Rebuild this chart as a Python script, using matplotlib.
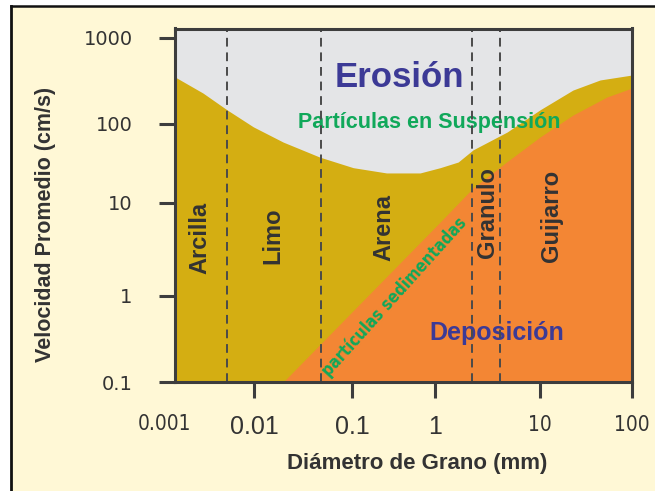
import numpy as np
import matplotlib
matplotlib.use("Agg")
import matplotlib.pyplot as plt
from matplotlib import font_manager
from matplotlib.font_manager import FontProperties
from matplotlib.patches import Rectangle
from matplotlib.lines import Line2D

# ---- data -------------------------------------------------------------
# Erosion threshold (upper curve): grain diameter (mm) vs mean velocity (cm/s)
erosion_d = [0.00132, 0.0027, 0.005, 0.0098, 0.0198, 0.047, 0.103, 0.26,
             0.66, 1.12, 1.66, 2.3, 4.85, 10, 22.8, 45, 100]
erosion_v = [352, 229, 146, 92, 59, 38, 28, 24, 24, 28, 33, 47, 79, 146, 248,
             325, 371]

# Settling threshold (lower curve)
settle_d = [0.0198, 1.12, 2.3, 4.16, 10, 22.8, 53.5, 100]
settle_v = [0.1, 6.25, 15.5, 28.6, 68.4, 127, 206, 262]

# Grain-size class boundaries (mm)
class_bounds = [0.005, 0.048, 2.27, 4.19]
class_names = ["Arcilla", "Limo", "Arena", "Granulo", "Guijarro"]

x_ticks = [0.01, 0.1, 1, 10, 100]
x_tick_labels = ["0.01", "0.1", "1", "10", "100"]
y_ticks = [0.1, 1, 10, 100, 1000]
y_tick_labels = ["0.1", "1", "10", "100", "1000"]

# ---- colours / fonts ----------------------------------------------------
CREAM = "#FFF8D6"
GRAY = "#E4E5E7"
MUSTARD = "#D4AE12"
ORANGE = "#F38634"
BLUE = "#3C3A96"
GREEN = "#10A85A"
DARK = "#333333"
FRAME = "#3D3D3D"

plt.rcParams["font.family"] = ["Liberation Sans", "DejaVu Sans"]


def narrow_font(bold, size):
    """A condensed sans face if one is installed, else plain Liberation Sans."""
    best = None
    for f in font_manager.fontManager.ttflist:
        name = f.name.lower()
        tag = (name + " " + str(f.stretch) + " " + f.fname).lower()
        if "condensed" not in tag and "narrow" not in tag:
            continue
        if "sans" not in name or any(k in tag for k in ("mono", "serif", "cjk")):
            continue
        if "italic" in str(f.style).lower() or "oblique" in str(f.style).lower():
            continue
        w = f.weight if isinstance(f.weight, int) else (700 if "bold" in str(f.weight) else 400)
        if (w >= 600) != bold:
            continue
        if best is None or "liberation" in name:
            best = f
    if best is None:
        return FontProperties(family="Liberation Sans",
                              weight="bold" if bold else "normal", size=size)
    return FontProperties(fname=best.fname, size=size)


# ---- hand-drawn log axes: each decade has its own width ----------------
X_DEC = [-4, -3, -2, -1, 0, 1, 2, 3]
X_POS = [74, 164, 254, 352, 435, 540, 632, 724]
Y_DEC = [-2, -1, 0, 1, 2, 3, 4]
Y_POS = [-86, 0, 86, 179, 258, 344, 430]


def _fwd(dec, pos):
    def f(v):
        v = np.asarray(v, dtype=float)
        return np.interp(np.log10(np.clip(v, 1e-12, None)), dec, pos)
    return f


def _inv(dec, pos):
    def f(p):
        return 10.0 ** np.interp(np.asarray(p, dtype=float), pos, dec)
    return f


# ---- figure -------------------------------------------------------------
W, H = 655, 491
fig = plt.figure(figsize=(W / 100, H / 100), dpi=100, facecolor="white")
fig.patches.append(Rectangle((11 / W, 0), 1, (H - 6) / H, transform=fig.transFigure,
                             facecolor=CREAM, edgecolor="none", zorder=-10))
fig.add_artist(Line2D([11 / W, 11 / W], [0, (H - 6) / H], color="#111111", lw=2.0,
                      zorder=-5))
fig.add_artist(Line2D([11 / W, 1], [(H - 6) / H, (H - 6) / H], color="#111111", lw=1.8,
                      zorder=-5))

ax = fig.add_axes([175 / W, (H - 382) / H, 457 / W, 353.5 / H])
ax.set_zorder(2)
ax.set_xscale("function", functions=(_fwd(X_DEC, X_POS), _inv(X_DEC, X_POS)))
ax.set_yscale("function", functions=(_fwd(Y_DEC, Y_POS), _inv(Y_DEC, Y_POS)))
ax.set_xlim(0.00132, 100)
ax.set_ylim(0.1, 1289)
ax.set_facecolor(GRAY)

ax.fill_between(erosion_d, 0.05, erosion_v, color=MUSTARD, lw=0, zorder=1)
ax.fill_between(settle_d, 0.05, settle_v, color=ORANGE, lw=0, zorder=2)

# region labels
ax.text(0.492, 0.860, "Erosión", transform=ax.transAxes, ha="center", va="center",
        fontsize=25, fontweight="bold", color=BLUE, zorder=3)
ax.text(0.556, 0.7355, "Partículas en Suspensión", transform=ax.transAxes,
        ha="center", va="center", fontsize=15.5, fontweight="bold", color=GREEN, zorder=3)
ax.text(0.7046, 0.1386, "Deposición", transform=ax.transAxes, ha="center",
        va="center", fontsize=18, fontweight="bold", color=BLUE, zorder=3)
ax.text(0.480, 0.242, "partículas sedimentadas", transform=ax.transAxes,
        ha="center", va="center", rotation=48, rotation_mode="anchor",
        fontproperties=narrow_font(True, 12), color=GREEN, zorder=3)

name_pos = [(0.0547, 0.407), (0.2144, 0.413), (0.457, 0.436), (0.683, 0.478),
            (0.823, 0.470)]
for name, (fx, fy) in zip(class_names, name_pos):
    ax.text(fx, fy, name, transform=ax.transAxes, ha="center", va="center",
            rotation=90, fontsize=17, fontweight="bold", color=DARK, zorder=3)

for b in class_bounds:
    ax.axvline(b, color="#4A4A4A", lw=1.4, dashes=(4.5, 3), zorder=4)

# frame and ticks
for sp in ax.spines.values():
    sp.set_color(FRAME)
    sp.set_linewidth(2.2)
    sp.set_zorder(5)

ax.set_xticks(x_ticks, x_tick_labels)
ax.set_yticks(y_ticks, y_tick_labels)
ax.minorticks_off()
ax.tick_params(axis="both", direction="out", length=11.5, width=2.2, color=FRAME,
               labelcolor=DARK)
ax.tick_params(axis="x", pad=12)
ax.tick_params(axis="y", pad=19)

for lab in ax.get_yticklabels():
    lab.set_fontfamily("DejaVu Sans")
    lab.set_fontsize(14)
for lab in ax.get_xticklabels():
    if lab.get_text() in ("10", "100"):
        lab.set_fontproperties(narrow_font(False, 15))
    else:
        lab.set_fontsize(18)

ax.text(0.001, -0.118, "0.001", transform=ax.get_xaxis_transform(), ha="center",
        va="center", fontproperties=narrow_font(False, 15), color=DARK, clip_on=False)

fig.text(46 / W, (H - 224) / H, "Velocidad Promedio (cm/s)", rotation=90,
         ha="center", va="center", fontsize=15.5, fontweight="bold", color=DARK)
fig.text(417 / W, (H - 463) / H, "Diámetro de Grano (mm)", ha="center",
         va="center", fontsize=16, fontweight="bold", color=DARK)

fig.savefig("out.png", dpi=100, facecolor="white")
